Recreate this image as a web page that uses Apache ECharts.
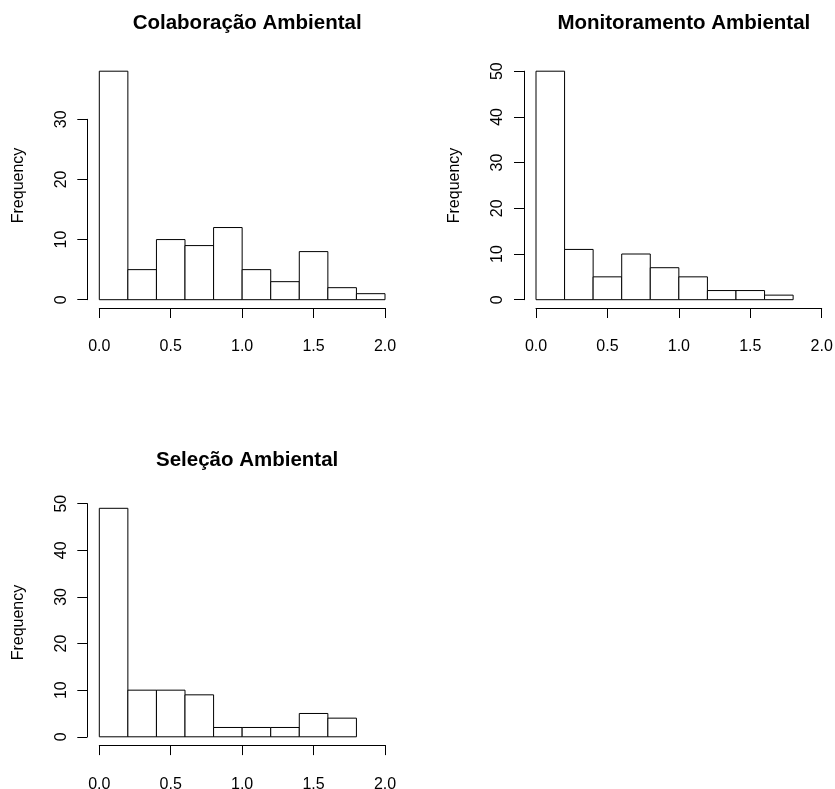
<!DOCTYPE html>
<html>
<head>
<meta charset="utf-8">
<title>Histogramas</title>
<script src="https://cdn.jsdelivr.net/npm/echarts@6/dist/echarts.min.js"></script>
<style>
  html, body { margin: 0; padding: 0; background: #fff; }
  #chart { width: 835px; height: 789px; }
</style>
</head>
<body>
<div id="chart"></div>
<script>
// Histogram bin edges shared by all panels
const breaks = [0, 0.2, 0.4, 0.6, 0.8, 1.0, 1.2, 1.4, 1.6, 1.8, 2.0];

// Bin counts per variable
const colaboracao = [38, 5, 10, 9, 12, 5, 3, 8, 2, 1];
const monitoramento = [50, 11, 5, 10, 7, 5, 2, 2, 1];
const selecao = [49, 10, 10, 9, 2, 2, 2, 5, 4];

const panelTitles = ['Colaboração Ambiental', 'Monitoramento Ambiental', 'Seleção Ambiental'];
const yAxisTops = [30, 50, 50];       // last labelled tick on each frequency axis
const xTickLabels = ['0.0', '0.5', '1.0', '1.5', '2.0'];
const yLabel = 'Frequency';

const FONT = '"Liberation Sans", Arial, Helvetica, sans-serif';

// Plot-region geometry (pixels)
const panels = [
  { counts: colaboracao, left: 99.3, zeroY: 299.7, titleY: 8 },
  { counts: monitoramento, left: 536, zeroY: 299.7, titleY: 8 },
  { counts: selecao, left: 99.3, zeroY: 736.8, titleY: 445 }
];
const PW = 285.7;   // width of 0..2 on x
const PH = 228.5;   // height of 0..max count on y

const grid = [], xAxis = [], yAxis = [], series = [], title = [];

function binData(counts) {
  return counts.map((c, i) => [breaks[i], breaks[i + 1], c]);
}

panels.forEach((p, k) => {
  const maxCount = Math.max(...p.counts);
  const top = p.zeroY - PH;
  const g = grid.length;

  // data grid (fixed rectangle, labels may extend past the canvas edge)
  grid.push({ left: p.left, top: top, width: PW, height: PH, outerBoundsMode: 'none' });
  xAxis.push({
    gridIndex: g, type: 'value', min: 0, max: 2, interval: 0.5,
    position: 'bottom', offset: 8.3,
    axisLine: { show: true, onZero: false, lineStyle: { color: '#000', width: 1 } },
    axisTick: { show: true, length: 10, lineStyle: { color: '#000', width: 1 } },
    axisLabel: {
      show: true, margin: 31, color: '#000', fontFamily: FONT, fontSize: 16,
      formatter: v => xTickLabels[Math.round(v / 0.5)]
    },
    splitLine: { show: false }
  });
  yAxis.push({
    gridIndex: g, type: 'value', min: 0, max: maxCount,
    name: yLabel, nameLocation: 'middle', nameGap: 73,
    nameTextStyle: { color: '#000', fontFamily: FONT, fontSize: 16 },
    axisLine: { show: false, onZero: false }, axisTick: { show: false },
    axisLabel: { show: false }, splitLine: { show: false }
  });
  series.push({
    type: 'custom', xAxisIndex: g, yAxisIndex: g,
    data: binData(p.counts),
    renderItem: function (params, api) {
      const a = api.coord([api.value(0), api.value(2)]);
      const b = api.coord([api.value(1), 0]);
      return {
        type: 'rect',
        shape: { x: a[0], y: a[1], width: b[0] - a[0], height: b[1] - a[1] },
        style: { fill: '#fff', stroke: '#000', lineWidth: 1 }
      };
    }
  });

  // frequency axis grid, spanning 0..last tick
  const axH = PH * yAxisTops[k] / maxCount;
  const g2 = grid.length;
  grid.push({ left: p.left, top: p.zeroY - axH, width: PW, height: axH, outerBoundsMode: 'none' });
  xAxis.push({ gridIndex: g2, type: 'value', min: 0, max: 2, show: false });
  yAxis.push({
    gridIndex: g2, type: 'value', min: 0, max: yAxisTops[k], interval: 10,
    position: 'left', offset: 12,
    axisLine: { show: true, onZero: false, lineStyle: { color: '#000', width: 1 } },
    axisTick: { show: true, length: 10, lineStyle: { color: '#000', width: 1 } },
    axisLabel: {
      show: true, rotate: 90, margin: 18, color: '#000', fontFamily: FONT, fontSize: 16
    },
    splitLine: { show: false }
  });

  title.push({
    text: panelTitles[k],
    left: p.left + PW / 2, top: p.titleY, textAlign: 'center',
    textStyle: { color: '#000', fontFamily: FONT, fontSize: 20.5, fontWeight: 'bold' }
  });
});

const chart = echarts.init(document.getElementById('chart'), null, { renderer: 'canvas' });
chart.setOption({
  animation: false,
  backgroundColor: '#fff',
  title, grid, xAxis, yAxis, series
});
</script>
</body>
</html>
